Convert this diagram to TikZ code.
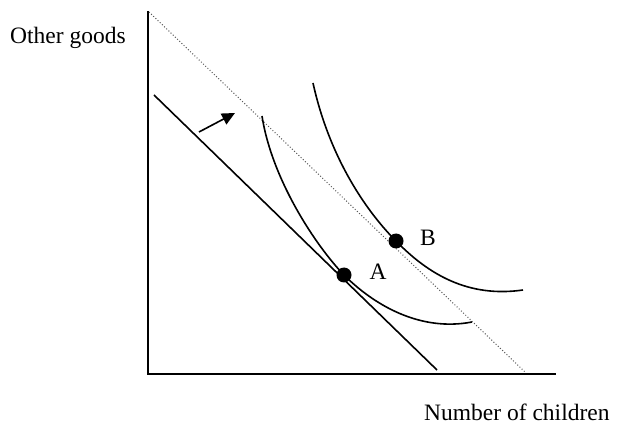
\documentclass[tikz,border=0pt]{standalone}
\usepackage{fontspec}
\setmainfont{Liberation Serif}
\usetikzlibrary{arrows.meta}
\begin{document}
\begin{tikzpicture}[x=1pt,y=-1pt,
  axis/.style={line width=1.6pt},
  budget/.style={line width=1.6pt},
  newbudget/.style={line width=1pt, black!65, dotted},
  icurve/.style={line width=1.6pt},
  pt/.style={circle, fill=black, inner sep=0pt, minimum size=15pt},
  lbl/.style={font=\fontsize{23.5}{28}\selectfont, inner sep=0pt}]
\useasboundingbox (0,0) rectangle (629,430);
% axes
\coordinate (O) at (148,374);
\coordinate (Ytop) at (148,11);
\coordinate (Xend) at (556,374);
\draw[axis] (Ytop) -- (O) -- (Xend);
% budget lines
\coordinate (b1s) at (154,95);
\coordinate (b1e) at (437,370);
\draw[budget] (b1s) -- (b1e);
\coordinate (b2s) at (149,12);
\coordinate (b2e) at (525,372);
\draw[newbudget] (b2s) -- (b2e);
% points
\node[pt] (A) at (344,275) {};
\node[pt] (B) at (396,241) {};
% indifference curves
\coordinate (ia) at (262,116);
\coordinate (iae) at (472,322);
\draw[icurve] (ia) .. controls (272,180) and (316,246) .. (A.center)
  .. controls (374,305) and (420,332) .. (iae);
\coordinate (ib) at (313,83);
\coordinate (ibe) at (523,290);
\draw[icurve] (ib) .. controls (330,160) and (368,213) .. (B.center)
  .. controls (428,274) and (468,298) .. (ibe);
% shift arrow
\coordinate (as) at (199,132);
\coordinate (ae) at (235,113);
\draw[line width=1.6pt, -{Triangle[length=13pt,width=12pt]}] (as) -- (ae);
% labels
\node[lbl] (la) at (378,272) {A};
\node[lbl] (lb) at (428,238) {B};
\node[lbl, anchor=west] (yl) at (10,38) {Other goods};
\node[lbl, anchor=west] (xl) at (424,412) {Number of children};
\end{tikzpicture}
\end{document}
